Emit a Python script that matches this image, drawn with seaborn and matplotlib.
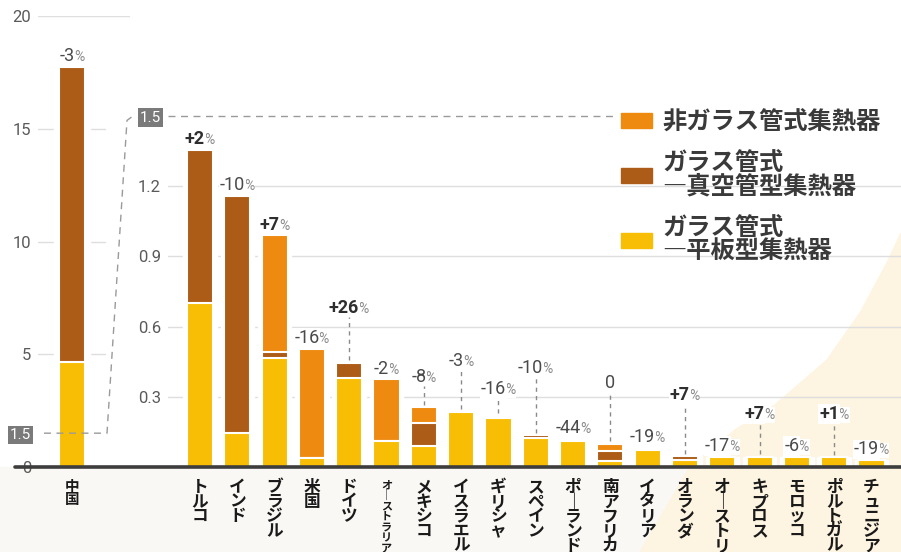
import numpy as np
import pandas as pd
import seaborn as sns
import matplotlib.pyplot as plt
from matplotlib.patches import Patch, Polygon, Rectangle
from matplotlib.lines import Line2D

# --- data ---
china_label = '中国'
china_flat = 4.65
china_tube = 13.1
china_change = '-3%'

countries = ['トルコ', 'インド', 'ブラジル', '米国', 'ドイツ', 'オーストラリア', 'メキシコ',
             'イスラエル', 'ギリシャ', 'スペイン', 'ポーランド', '南アフリカ', 'イタリア',
             'オランダ', 'オーストリア', 'キプロス', 'モロッコ', 'ポルトガル', 'チュニジア']
flat_plate = [0.70, 0.145, 0.465, 0.04, 0.38, 0.11, 0.09, 0.235, 0.21, 0.125, 0.11,
              0.025, 0.072, 0.03, 0.044, 0.044, 0.044, 0.041, 0.03]
vacuum_tube = [0.655, 1.015, 0.025, 0.0, 0.065, 0.0, 0.10, 0.0, 0.01, 0.01, 0.01,
               0.045, 0.01, 0.015, 0.0, 0.0, 0.0, 0.0, 0.0]
unglazed = [0.0, 0.0, 0.50, 0.465, 0.0, 0.265, 0.065, 0.0, 0.0, 0.0, 0.0,
            0.03, 0.0, 0.0, 0.0, 0.0, 0.0, 0.0, 0.0]
changes = ['+2%', '-10%', '+7%', '-16%', '+26%', '-2%', '-8%', '-3%', '-16%', '-10%',
           '-44%', '0', '-19%', '+7%', '-17%', '+7%', '-6%', '+1%', '-19%']

legend_labels = ['非ガラス管式集熱器', 'ガラス管式\n―真空管型集熱器', 'ガラス管式\n―平板型集熱器']
left_ticks = [0, 1.5, 5, 10, 15, 20]
inset_ticks = [0.3, 0.6, 0.9, 1.2, 1.5]

# labels lifted above the bar with a dashed leader (layout only)
lifted = {'ドイツ': 0.66, 'メキシコ': 0.365, 'イスラエル': 0.432, 'ギリシャ': 0.31,
          'スペイン': 0.403, '南アフリカ': 0.337, 'オランダ': 0.286, 'キプロス': 0.205,
          'ポルトガル': 0.205}

ORANGE = '#ee8a10'
BROWN = '#ad5c17'
YELLOW = '#f8be05'
GRID = '#dedede'

sns.set_style('white')
plt.rcParams['font.family'] = ['Roboto', 'Noto Sans CJK JP', 'DejaVu Sans']
JP = 'Noto Sans CJK JP'

W, H = 901, 552
fig = plt.figure(figsize=(W / 100, H / 100), dpi=100)


def fx(px):
    return px / W


def fy(py):
    return 1 - py / H


base_y = fy(467)
top_y = fy(16)
ax1 = fig.add_axes([fx(38), base_y, fx(130) - fx(38), top_y - base_y])
ax2 = fig.add_axes([fx(168), base_y, fx(901) - fx(168), top_y - base_y])
for ax in (ax1, ax2):
    ax.patch.set_visible(False)
    for s in ax.spines.values():
        s.set_visible(False)

# background decorations
fig.add_artist(Rectangle((0, 0), 1, base_y, transform=fig.transFigure,
                         color='#faf8f5', zorder=-2))
curve = [(640, 552), (690, 467), (735, 430), (775, 405), (827, 360), (860, 313),
         (887, 263), (901, 233), (901, 552)]
fig.add_artist(Polygon([(fx(a), fy(b)) for a, b in curve], closed=True,
                       transform=fig.transFigure, color='#fdf4e1', zorder=-1))

# --- China (left scale) ---
cn_total = china_flat + china_tube
ax1.bar([0], [cn_total], width=0.95, color='white', zorder=1.5)
sns.barplot(x=[china_label], y=[cn_total], color=BROWN, width=0.72, saturation=1,
            edgecolor='white', linewidth=1.5, errorbar=None, ax=ax1, zorder=2)
sns.barplot(x=[china_label], y=[china_flat], color=YELLOW, width=0.72, saturation=1,
            edgecolor='white', linewidth=1.5, errorbar=None, ax=ax1, zorder=2)
ax1.set_xlim(-0.912, 1.555)
ax1.set_ylim(0, 20)
for v in [5, 10, 15]:
    ax1.axhline(v, xmax=0.73, color=GRID, lw=1, zorder=1)
ax1.axhline(20, color=GRID, lw=1, zorder=1)

# --- other countries (inset scale) ---
x = np.arange(len(countries))
tube_top = np.array(flat_plate) + np.array(vacuum_tube)
totals = tube_top + np.array(unglazed)
ax2.bar(x, totals, width=0.9, color='white', zorder=1.5)
for vals, col in [(totals, ORANGE), (tube_top, BROWN), (flat_plate, YELLOW)]:
    sns.barplot(x=countries, y=list(vals), color=col, width=0.7, saturation=1,
                edgecolor='white', linewidth=1.5, errorbar=None, ax=ax2, zorder=2)
ax2.set_xlim(-0.858, 18.79)
ax2.set_ylim(0, 451 / 234)
for v in [0.3, 0.6, 0.9, 1.2]:
    ax2.axhline(v, color=GRID, lw=1, zorder=1)
ax2.axhline(1.5, xmax=(615 - 168) / 733, color='#9a9a9a', lw=1, ls=(0, (5, 4)), zorder=1)

# ticks
for ax, ticks in [(ax1, left_ticks), (ax2, inset_ticks)]:
    ax.set_xticks([])
    ax.set_xlabel('')
    ax.set_ylabel('')
    ax.set_yticks(ticks)
    ax.set_yticklabels([f'{t:g}' for t in ticks])
    ax.tick_params(axis='y', length=0, pad=5, labelsize=12, labelcolor='#5a5a5a')
    for lab in ax.get_yticklabels():
        if lab.get_text() == '1.5':
            lab.set_color('white')
            lab.set_fontsize(11)
            lab.set_bbox(dict(facecolor='#7a7a7a', edgecolor='none', pad=1.5))

# dashed connector between the two 1.5 marks
yl = base_y + 1.5 / 20 * (top_y - base_y)
yr = base_y + 1.5 / (451 / 234) * (top_y - base_y)
fig.add_artist(Line2D([fx(44), fx(107), fx(127), fx(133)], [yl, yl, yr - 0.008, yr],
                      transform=fig.transFigure, color='#9a9a9a', lw=1, ls=(0, (5, 4))))

# thick baseline
fig.add_artist(Line2D([fx(15), fx(901)], [base_y, base_y], transform=fig.transFigure,
                      color='#3d3d3d', lw=2.6, zorder=5))

# --- change labels ---
pairs = []


def add_change(ax, xi, top, text, lift=None):
    num, pct = (text[:-1], '%') if text.endswith('%') else (text, '')
    pos = num.startswith('+')
    if lift is None:
        y0, dy = top, 4
    else:
        y0, dy = lift, 0
        ax.plot([xi, xi], [top + 0.012, lift - 0.018], color='#8a8a8a', lw=1,
                ls=(0, (3, 3)), zorder=1.8)
    box = dict(facecolor='white', edgecolor='none', pad=0.6)
    t1 = ax.annotate(num, (xi, y0), xytext=(0, dy), textcoords='offset points',
                     ha='right', va='baseline', fontsize=13,
                     fontweight='bold' if pos else 'normal',
                     color='#2e2e2e' if pos else '#4a4a4a', bbox=box, zorder=3)
    t2 = ax.annotate(pct, (xi, y0), xytext=(0, dy), textcoords='offset points',
                     ha='left', va='baseline', fontsize=10, color='#8a8a8a',
                     bbox=box if pct else None, zorder=2.9)
    pairs.append((t1, t2, dy))


add_change(ax1, 0, cn_total, china_change)
for i, name in enumerate(countries):
    add_change(ax2, i, totals[i], changes[i], lifted.get(name))

fig.canvas.draw()
rend = fig.canvas.get_renderer()
for t1, t2, dy in pairs:
    w1 = t1.get_window_extent(rend).width * 72 / 100
    w2 = t2.get_window_extent(rend).width * 72 / 100 if t2.get_text() else 0
    dx = (w1 - w2) / 2
    t1.xyann = (dx, dy)
    t2.xyann = (dx - 0.5, dy)

# --- vertical country names ---


def vertical(name):
    return '\n'.join(name.replace('ー', '｜'))


ax1.annotate(vertical(china_label), (0, 0), xytext=(0, -8), textcoords='offset points',
             ha='center', va='top', fontsize=10.5, fontweight='bold', family=JP,
             linespacing=0.78, color='#1a1a1a', annotation_clip=False)
for i, name in enumerate(countries):
    small = len(name) > 6
    ax2.annotate(vertical(name), (i, 0), xytext=(0, -8), textcoords='offset points',
                 ha='center', va='top', fontsize=8 if small else 12, fontweight='bold',
                 family=JP, linespacing=0.76, color='#1a1a1a', annotation_clip=False)

# --- legend ---
handles = [Patch(color=ORANGE), Patch(color=BROWN), Patch(color=YELLOW)]
leg = fig.legend(handles, legend_labels, loc='upper left',
                 bbox_to_anchor=(fx(599), fy(88)), frameon=False,
                 prop={'family': JP, 'size': 17.5, 'weight': 'bold'},
                 handlelength=1.3, handleheight=0.55, handletextpad=0.4,
                 labelspacing=0.7, labelcolor='#3a3a3a')
for t in leg.get_texts():
    t.set_linespacing(1.0)

fig.savefig('out.png', dpi=100)
